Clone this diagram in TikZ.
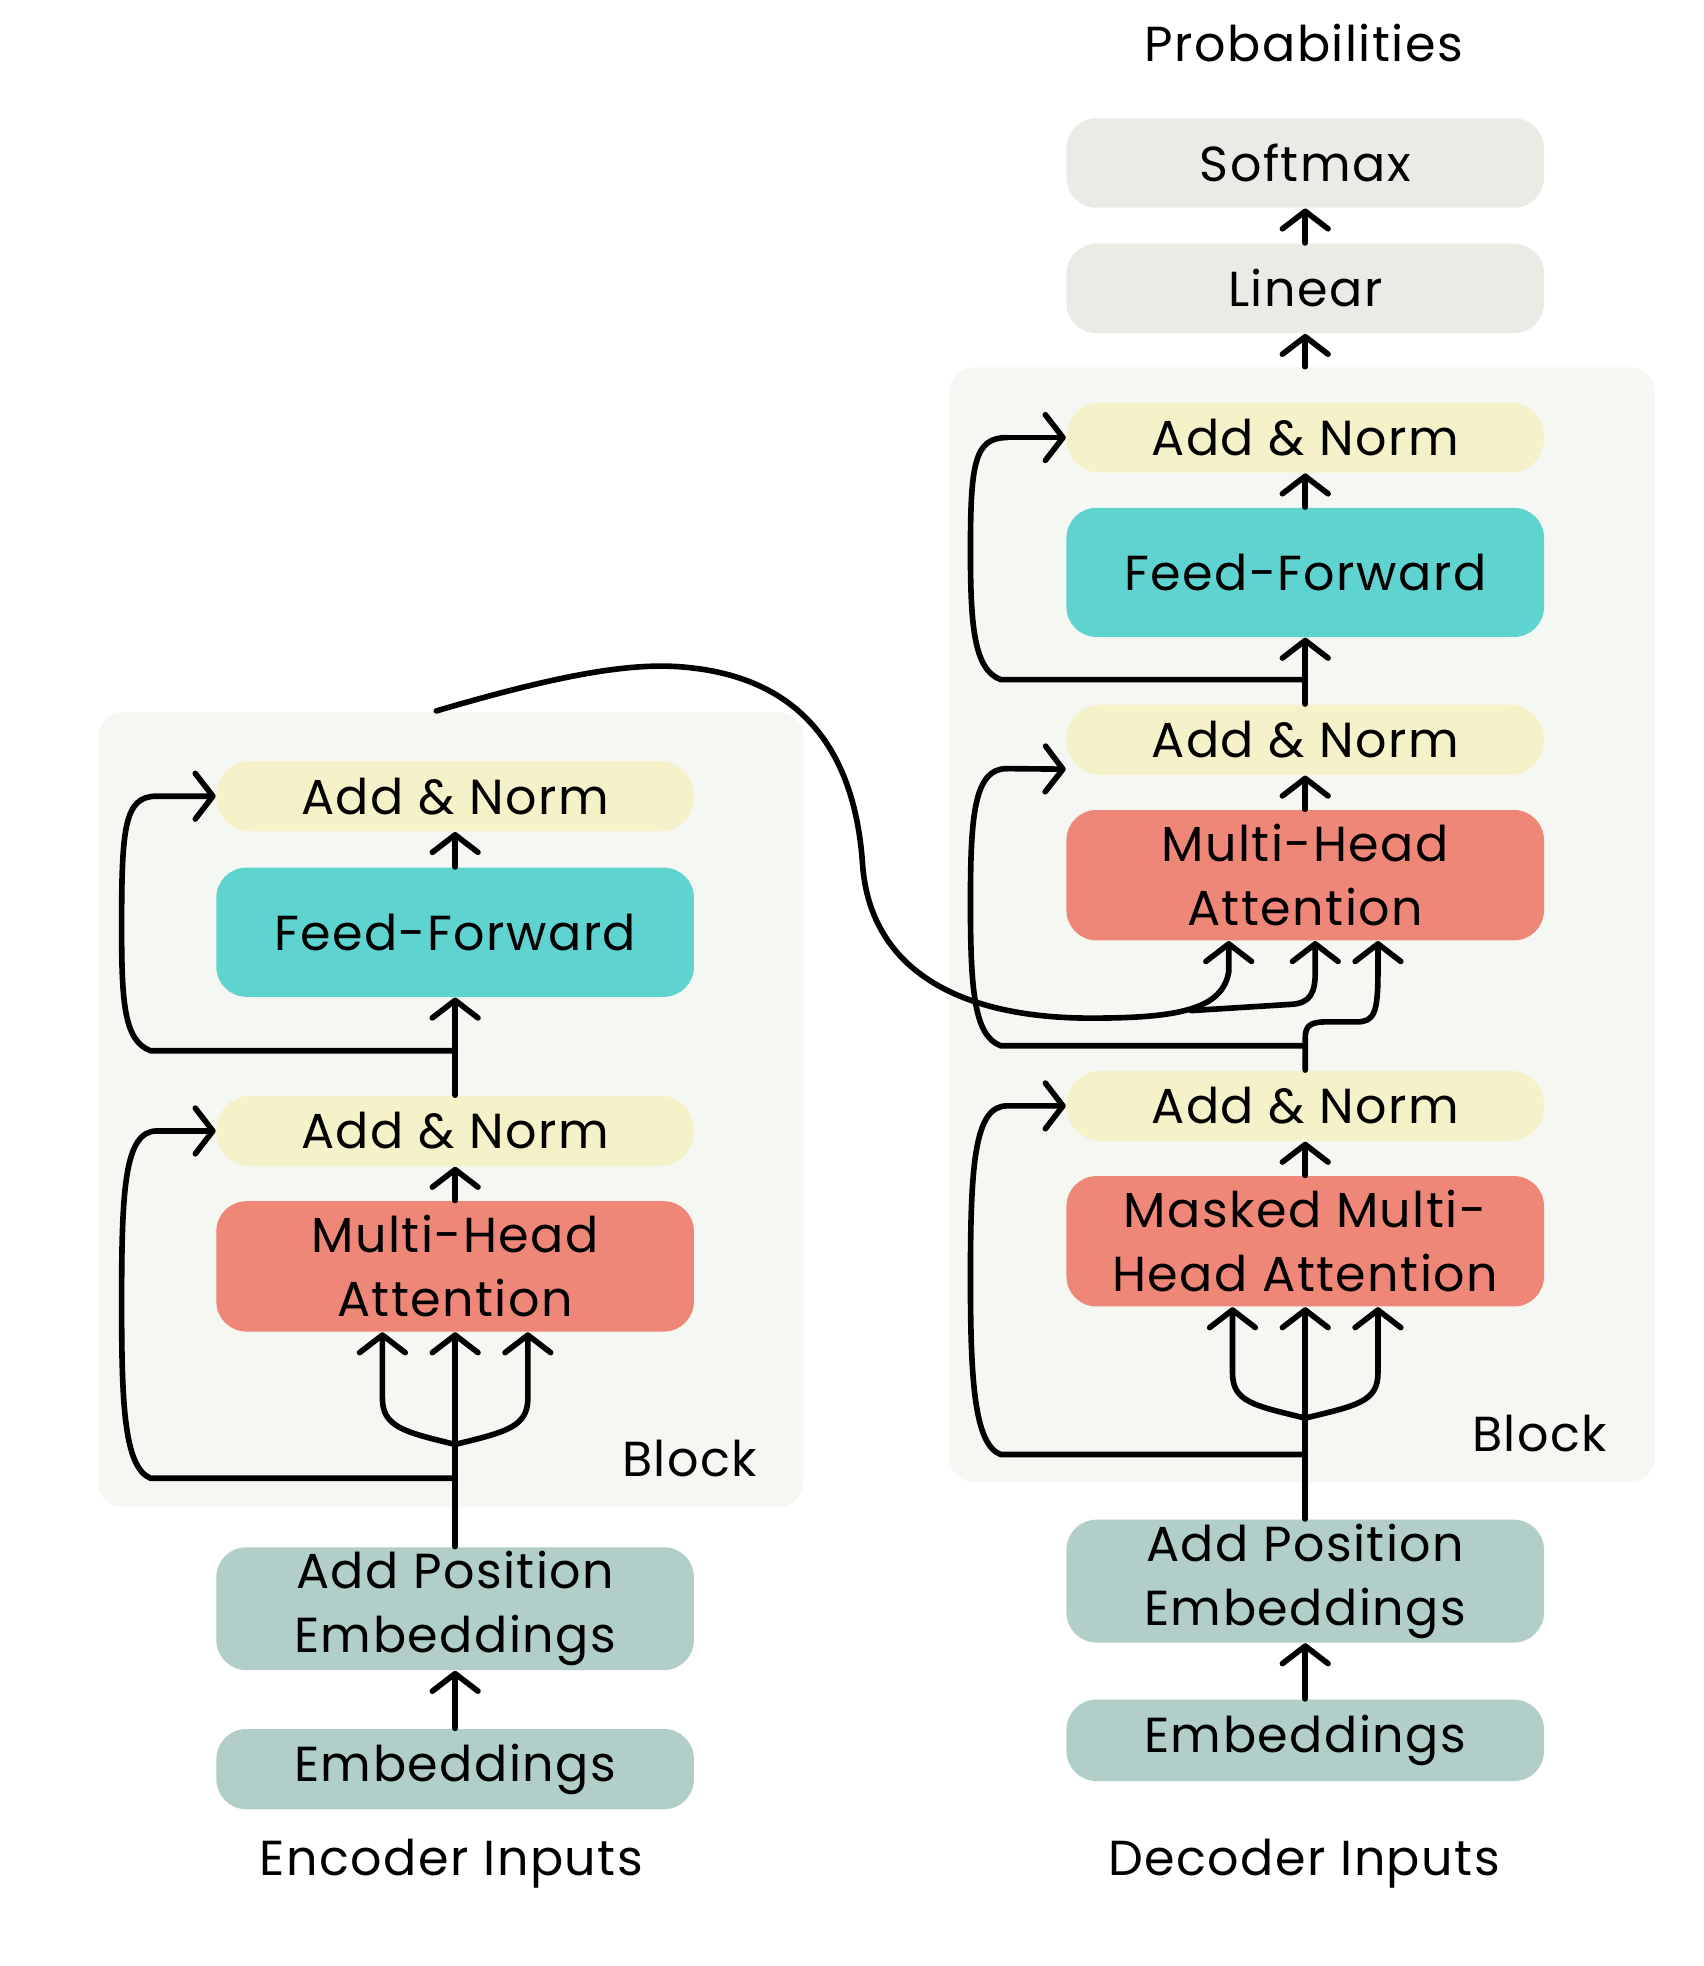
\documentclass[tikz,border=0pt]{standalone}
\usepackage{fontspec}
\setmainfont[LetterSpace=3]{Poppins}
\usetikzlibrary{arrows.meta}
\definecolor{anfill}{HTML}{F5F2CA}
\definecolor{fffill}{HTML}{5ED3CF}
\definecolor{attfill}{HTML}{EE8778}
\definecolor{embfill}{HTML}{B1CEC8}
\definecolor{outfill}{HTML}{E9ECE4}
\definecolor{blkfill}{HTML}{F5F7F3}

\begin{document}
\begin{tikzpicture}[x=0.012539cm,y=-0.012539cm,
    txt/.style={font=\fontsize{14}{18.2}\selectfont,inner sep=0pt},
    box/.style={txt,rounded corners=0.3cm,minimum width=4.777cm,align=center},
    addnorm/.style={box,fill=anfill,minimum height=0.702cm,rounded corners=0.34cm},
    ffwd/.style={box,fill=fffill,minimum height=1.292cm},
    attn/.style={box,fill=attfill,minimum height=1.304cm},
    embed/.style={box,fill=embfill},
    outbox/.style={box,fill=outfill,minimum height=0.895cm},
    blockbg/.style={fill=blkfill,rounded corners=0.25cm,inner sep=0pt},
    wire/.style={line width=1.6pt,line cap=round,line join=round},
    arr/.style={wire,-{Straight Barb[length=5pt,width=13pt,round]}}]
  \useasboundingbox (0,0) rectangle (1359,1568);

  \node[blockbg,minimum width=7.06cm,minimum height=7.95cm] (eblock) at (359.5,885) {};
  \node[blockbg,minimum width=7.06cm,minimum height=11.15cm] (dblock) at (1038.5,737.5) {};

  \node[addnorm] (ean2) at (363,635) {Add \& Norm};
  \node[ffwd] (eff) at (363,743.5) {Feed-Forward};
  \node[addnorm] (ean1) at (363,902) {Add \& Norm};
  \node[attn] (emha) at (363,1010) {Multi-Head\\Attention};
  \node[embed,minimum height=1.229cm] (eape) at (363,1283) {Add Position\\Embeddings};
  \node[embed,minimum height=0.803cm] (eemb) at (363,1411) {Embeddings};
  \node[txt] (einp) at (360,1486) {Encoder Inputs};
  \node[txt] (eblk) at (550,1163) {Block};

  \node[txt] (prob) at (1040,34) {Probabilities};
  \node[outbox] (dsoft) at (1041,130) {Softmax};
  \node[outbox] (dlin) at (1041,230) {Linear};
  \node[addnorm] (dan3) at (1041,349) {Add \& Norm};
  \node[ffwd] (dff) at (1041,456.5) {Feed-Forward};
  \node[addnorm] (dan2) at (1041,590) {Add \& Norm};
  \node[attn] (dmha) at (1041,698) {Multi-Head\\Attention};
  \node[addnorm] (dan1) at (1041,882) {Add \& Norm};
  \node[attn] (dmmha) at (1041,990) {Masked Multi-\\Head Attention};
  \node[embed,minimum height=1.229cm] (dape) at (1041,1261) {Add Position\\Embeddings};
  \node[embed,minimum height=0.815cm] (demb) at (1041,1388) {Embeddings};
  \node[txt] (dinp) at (1040,1486) {Decoder Inputs};
  \node[txt] (dblk) at (1228,1143) {Block};

  \coordinate (efork) at (363,1152);
  \coordinate (eres1) at (363,1179);
  \coordinate (eres2) at (363,838);
  \coordinate (eql) at (305,1115);
  \coordinate (eqr) at (421,1115);
  \coordinate (dfork) at (1041,1131);
  \coordinate (dres1) at (1041,1160);
  \coordinate (dres2) at (1041,834);
  \coordinate (dres3) at (1041,542);
  \coordinate (dql) at (983,1095);
  \coordinate (dqr) at (1099,1095);
  \coordinate (encout) at (348,567);
  \coordinate (dkl) at (980,775);
  \coordinate (dkm) at (1049,775);
  \coordinate (dkr) at (1099,775);
  \coordinate (dj) at (950,806);

  \draw[arr] (eemb) -- (eape);
  \draw[arr] (eape) -- (emha);
  \draw[arr] (efork) .. controls (322,1142) and (305,1138) .. (eql) -- (eql |- emha.south);
  \draw[arr] (efork) .. controls (404,1142) and (421,1138) .. (eqr) -- (eqr |- emha.south);
  \draw[arr] (eres1) -- (120,1179) .. controls (99,1170) and (97,1120) .. (97,1040)
    .. controls (97,950) and (99,902) .. (125,902) -- (ean1.west);
  \draw[arr] (emha) -- (ean1);
  \draw[arr] (ean1) -- (eff);
  \draw[arr] (eres2) -- (120,838) .. controls (99,830) and (97,800) .. (97,740)
    .. controls (97,660) and (99,635) .. (125,635) -- (ean2.west);
  \draw[arr] (eff) -- (ean2);

  \draw[arr] (demb) -- (dape);
  \draw[arr] (dape) -- (dmmha);
  \draw[arr] (dfork) .. controls (1000,1121) and (983,1118) .. (dql) -- (dql |- dmmha.south);
  \draw[arr] (dfork) .. controls (1082,1121) and (1099,1118) .. (dqr) -- (dqr |- dmmha.south);
  \draw[arr] (dres1) -- (798,1160) .. controls (777,1152) and (774,1100) .. (774,1020)
    .. controls (774,930) and (777,882) .. (803,882) -- (dan1.west);
  \draw[arr] (dmmha) -- (dan1);
  \draw[arr] (dan1.north) -- (1041,828) .. controls (1041,818) and (1045,815) .. (1058,815)
    -- (1082,815) .. controls (1096,815) and (1099,808) .. (dkr) -- (dkr |- dmha.south);
  \draw[wire] (dres2) -- (798,834) .. controls (777,826) and (774,790) .. (774,720)
    .. controls (774,650) and (777,613) .. (803,613);
  \draw[arr] (803,613) -- (dan2.-173);
  \draw[arr] (encout) .. controls (440,540) and (500,528) .. (545,532)
    .. controls (640,540) and (682,600) .. (688,690)
    .. controls (694,770) and (760,812) .. (870,812)
    .. controls (940,812) and (975,805) .. (dkl) -- (dkl |- dmha.south);
  \draw[arr] (dj) -- (1030,801) .. controls (1045,800) and (1049,792) .. (dkm) -- (dkm |- dmha.south);
  \draw[arr] (dmha) -- (dan2);
  \draw[arr] (dan2) -- (dff);
  \draw[wire] (dres3) -- (798,542) .. controls (777,534) and (774,500) .. (774,440)
    .. controls (774,370) and (777,349) .. (803,349);
  \draw[arr] (803,349) -- (dan3.west);
  \draw[arr] (dff) -- (dan3);
  \draw[arr] (dblock.north -| dlin) -- (dlin);
  \draw[arr] (dlin) -- (dsoft);
\end{tikzpicture}
\end{document}
